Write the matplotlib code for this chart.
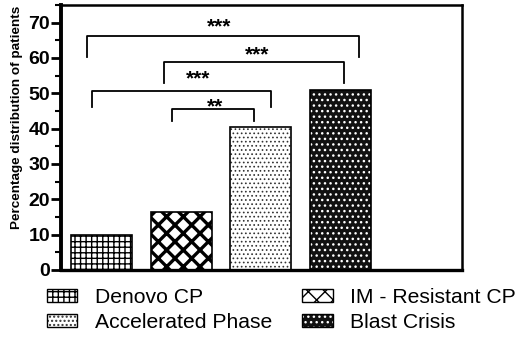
import matplotlib
matplotlib.use("Agg")
import matplotlib.pyplot as plt
from matplotlib.patches import Patch
from matplotlib.legend_handler import HandlerTuple
from matplotlib.ticker import MultipleLocator

plt.rcParams['font.family'] = ['Liberation Sans', 'DejaVu Sans']

categories = ['Denovo CP', 'IM - Resistant CP', 'Accelerated Phase', 'Blast Crisis']
values = [10, 16.5, 40.6, 50.9]
ylabel = 'Percentage distribution of patients'
yticks = [0, 10, 20, 30, 40, 50, 60, 70]

# significance brackets: (left x, right x, bar height, leg bottom, label, label x, label y)
bracket_x1 = [-0.18, 0.79, -0.12, 0.89]
bracket_x2 = [3.23, 3.05, 2.13, 1.91]
bracket_top = [66.1, 58.8, 50.8, 45.5]
bracket_leg = [60.2, 52.8, 46.0, 42.1]
bracket_lab = ['***', '***', '***', '**']
bracket_lab_x = [1.48, 1.96, 1.21, 1.42]
bracket_lab_y = [68.8, 61.0, 54.2, 46.3]

# styles: (face, hatch colour, hatch, hatch lw)
styles = [
    ('white', 'black', '+++', 1.0),
    ('white', 'black', 'xx', 2.4),
    ('white', '#333333', '....', 0.7),
    ('#111111', 'white', '...', 1.0),
]

fig = plt.figure(figsize=(5.29, 3.43), dpi=100)
ax = fig.add_axes([61/529, 1-270/343, (462-61)/529, (270-5)/343])

x = list(range(len(categories)))
handles = []
for i, (cat, v) in enumerate(zip(categories, values)):
    face, hc, hatch, hlw = styles[i]
    with plt.rc_context({'hatch.linewidth': hlw}):
        b = ax.bar(x[i], v, width=0.77, color=face, edgecolor=hc, hatch=hatch, linewidth=0, zorder=2)
        b2 = ax.bar(x[i], v, width=0.77, fill=False, edgecolor='black', linewidth=1.2, zorder=3)
        p1 = Patch(facecolor=face, edgecolor=hc, hatch=hatch, linewidth=0)
        p2 = Patch(fill=False, edgecolor='black', linewidth=1.0)
    for p in list(b) + [p1]:
        if hasattr(p, 'set_hatch_linewidth'):
            p.set_hatch_linewidth(hlw)
    handles.append((p1, p2))

for x1, x2, yt, yl, lab, lx, ly in zip(bracket_x1, bracket_x2, bracket_top, bracket_leg,
                                        bracket_lab, bracket_lab_x, bracket_lab_y):
    ax.plot([x1, x1, x2, x2], [yl, yt, yt, yl], color='black', lw=1.3, zorder=4)
    ax.text(lx, ly, lab, ha='center', va='center', fontsize=15, fontweight='bold')

ax.set_xlim(-0.51, 4.53)
ax.set_ylim(0, 75)
ax.set_xticks([])
ax.set_yticks(yticks)
ax.yaxis.set_minor_locator(MultipleLocator(5))
ax.tick_params(axis='y', which='major', length=7, width=2, labelsize=14, pad=1)
ax.tick_params(axis='y', which='minor', length=4, width=1.5)
for lab in ax.get_yticklabels():
    lab.set_fontweight('bold')
ax.spines['left'].set_linewidth(2.8)
ax.spines['bottom'].set_linewidth(2.4)
ax.spines['top'].set_linewidth(1.8)
ax.spines['right'].set_linewidth(1.8)
ax.set_ylabel(ylabel, fontsize=9.7, fontweight='bold')
ax.yaxis.set_label_coords(-0.095, 0.575)

order = [0, 2, 1, 3]
leg = fig.legend([handles[i] for i in order], [categories[i] for i in order],
                 handler_map={tuple: HandlerTuple(ndivide=1, pad=0)},
                 ncol=2, loc='upper left', bbox_to_anchor=(47/529, 1-288/343),
                 frameon=False, fontsize=15.2, handlelength=1.44, handleheight=0.58,
                 handletextpad=0.85, columnspacing=1.4, labelspacing=0.3,
                 borderpad=0, borderaxespad=0)

fig.savefig('out.png', dpi=100)
